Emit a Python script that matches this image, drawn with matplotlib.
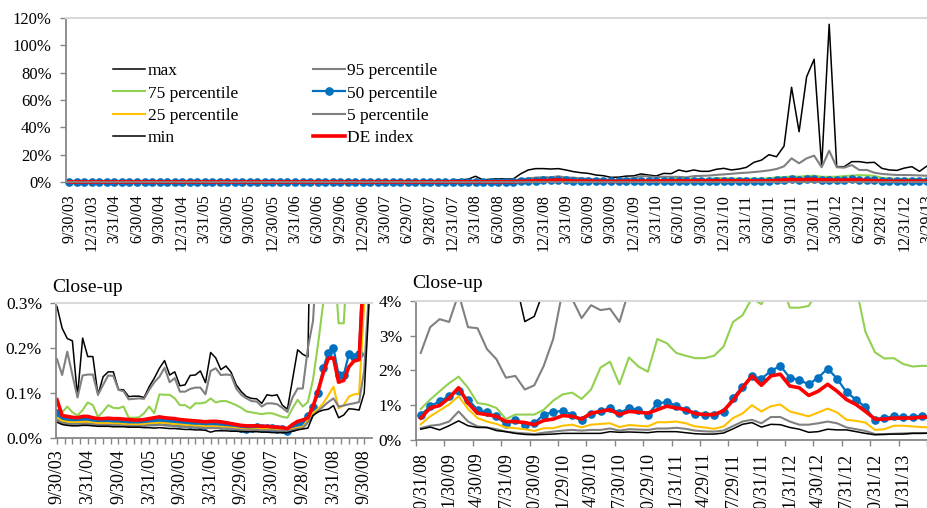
import matplotlib
matplotlib.use("Agg")
import matplotlib.pyplot as plt
import numpy as np
import pandas as pd

W, H = 927, 508
plt.rcParams["font.family"] = ["Liberation Serif", "DejaVu Serif"]

# monthly observations, business month ends from 9/30/03 (values in %)
start_date = "2003-09-30"
n_months = 116

# first 61 values: 9/30/03 .. 9/30/08, then 10/31/08 .. 4/30/13
max_ret = [
    0.292, 0.244, 0.221, 0.216, 0.092, 0.222, 0.181, 0.181, 0.096, 0.136,
    0.147, 0.147, 0.108, 0.107, 0.092, 0.093, 0.093, 0.09, 0.114, 0.133,
    0.155, 0.172, 0.14, 0.147, 0.116, 0.118, 0.139, 0.14, 0.149, 0.123,
    0.19, 0.178, 0.152, 0.16, 0.146, 0.118, 0.103, 0.092, 0.088, 0.087,
    0.077, 0.096, 0.094, 0.096, 0.073, 0.064, 0.13, 0.196, 0.186, 0.18,
    0.8, 1.2, 1.6, 2.0, 4.2, 1.5, 2.0, 2.4, 2.2, 2.2, 6.0,
    8.8, 9.8, 9.8, 9.5, 9.8, 8.8, 7.6, 6.8, 6.3, 5.1,
    4.6, 3.4, 3.55, 4.3, 4.5, 5.9, 5.1, 4.4, 6.3, 6.1,
    8.8, 7.6, 8.8, 7.8, 7.8, 9.3, 10.0, 8.8, 9.5, 10.7,
    14.4, 16.0, 20.0, 18.5, 26.3, 69.3, 36.8, 77.0, 89.8, 11.5,
    115.4, 11.2, 11.2, 14.9, 14.9, 14.1, 14.4, 10.0, 8.8, 8.5,
    10.2, 11.2, 7.8, 11.7, 12.0,
]
p95 = [
    0.175, 0.14, 0.192, 0.14, 0.09, 0.139, 0.141, 0.141, 0.096, 0.118,
    0.139, 0.138, 0.107, 0.104, 0.086, 0.087, 0.088, 0.087, 0.107, 0.124,
    0.136, 0.156, 0.124, 0.133, 0.103, 0.103, 0.109, 0.112, 0.112, 0.097,
    0.149, 0.155, 0.14, 0.141, 0.14, 0.11, 0.096, 0.088, 0.082, 0.081,
    0.07, 0.077, 0.077, 0.075, 0.067, 0.058, 0.09, 0.11, 0.11, 0.2,
    0.26, 0.45, 0.7, 0.9, 1.1, 0.9, 1.0, 1.1, 1.2, 1.3, 1.9,
    2.5, 3.24, 3.47, 3.39, 4.2, 3.24, 3.21, 2.61, 2.32, 1.79,
    1.84, 1.45, 1.57, 2.13, 2.9, 4.3, 4.05, 3.5, 3.87, 3.73,
    3.77, 3.39, 4.3, 4.5, 4.7, 5.2, 5.6, 6.0, 6.5, 6.8,
    7.3, 7.8, 8.5, 9.5, 11.5, 17.3, 13.7, 17.3, 19.3, 10.8,
    22.9, 10.8, 10.5, 12.4, 8.8, 8.8, 6.8, 5.9, 5.5, 5.1,
    5.1, 5.0, 4.8, 4.6, 4.8,
]
p75 = [
    0.081, 0.057, 0.07, 0.057, 0.05, 0.062, 0.079, 0.073, 0.047, 0.059,
    0.073, 0.067, 0.066, 0.07, 0.045, 0.045, 0.046, 0.055, 0.07, 0.055,
    0.097, 0.096, 0.096, 0.088, 0.073, 0.073, 0.066, 0.077, 0.077, 0.079,
    0.088, 0.079, 0.082, 0.082, 0.078, 0.073, 0.067, 0.059, 0.057, 0.055,
    0.053, 0.055, 0.055, 0.051, 0.047, 0.045, 0.066, 0.085, 0.07, 0.08,
    0.13, 0.21, 0.3, 0.38, 0.42, 0.255, 0.255, 0.45, 0.55, 0.6, 0.75,
    0.89, 1.16, 1.4, 1.63, 1.82, 1.5, 1.06, 1.02, 0.92, 0.6,
    0.73, 0.73, 0.73, 0.87, 1.13, 1.31, 1.36, 1.18, 1.45, 2.08,
    2.25, 1.6, 2.37, 2.11, 1.96, 2.9, 2.78, 2.5, 2.42, 2.35,
    2.35, 2.42, 2.68, 3.39, 3.58, 4.07, 3.9, 4.4, 4.6, 3.8,
    3.8, 3.85, 4.3, 4.7, 5.0, 4.9, 4.4, 3.1, 2.52, 2.34,
    2.35, 2.18, 2.11, 2.13, 2.12,
]
p50 = [
    0.055, 0.042, 0.04, 0.04, 0.039, 0.04, 0.04, 0.038, 0.037, 0.037,
    0.037, 0.036, 0.036, 0.035, 0.034, 0.034, 0.034, 0.035, 0.037, 0.038,
    0.04, 0.038, 0.037, 0.036, 0.034, 0.033, 0.032, 0.031, 0.03, 0.03,
    0.031, 0.031, 0.03, 0.029, 0.027, 0.025, 0.022, 0.02, 0.022, 0.024,
    0.022, 0.022, 0.022, 0.02, 0.019, 0.016, 0.025, 0.032, 0.035, 0.05,
    0.068, 0.1, 0.155, 0.19, 0.2, 0.14, 0.14, 0.186, 0.18, 0.186, 0.45,
    0.71, 0.97, 1.11, 1.26, 1.4, 1.16, 0.87, 0.79, 0.68, 0.45,
    0.56, 0.44, 0.48, 0.73, 0.8, 0.84, 0.73, 0.56, 0.75, 0.82,
    0.92, 0.77, 0.92, 0.87, 0.73, 1.05, 1.09, 0.99, 0.87, 0.76,
    0.73, 0.73, 0.79, 1.21, 1.53, 1.84, 1.76, 1.98, 2.13, 1.79,
    1.72, 1.6, 1.79, 2.05, 1.76, 1.37, 1.16, 0.94, 0.56, 0.63,
    0.68, 0.66, 0.66, 0.7, 0.68,
]
p25 = [
    0.045, 0.038, 0.036, 0.035, 0.035, 0.036, 0.036, 0.034, 0.033, 0.033,
    0.033, 0.032, 0.032, 0.031, 0.03, 0.03, 0.03, 0.031, 0.032, 0.033,
    0.034, 0.033, 0.032, 0.031, 0.03, 0.029, 0.028, 0.027, 0.027, 0.026,
    0.026, 0.026, 0.025, 0.024, 0.023, 0.022, 0.02, 0.019, 0.019, 0.02,
    0.02, 0.02, 0.019, 0.018, 0.017, 0.016, 0.02, 0.023, 0.025, 0.04,
    0.055, 0.065, 0.077, 0.095, 0.114, 0.066, 0.073, 0.092, 0.097, 0.098, 0.3,
    0.45, 0.68, 0.85, 1.02, 1.26, 0.89, 0.63, 0.53, 0.46, 0.36,
    0.34, 0.31, 0.26, 0.34, 0.34, 0.41, 0.44, 0.36, 0.44, 0.46,
    0.48, 0.37, 0.43, 0.41, 0.39, 0.51, 0.51, 0.53, 0.48, 0.39,
    0.36, 0.32, 0.39, 0.63, 0.76, 1.0, 0.82, 0.97, 1.02, 0.82,
    0.75, 0.68, 0.79, 0.9, 0.79, 0.58, 0.55, 0.5, 0.29, 0.31,
    0.41, 0.41, 0.39, 0.37, 0.36,
]
p5 = [
    0.04, 0.033, 0.031, 0.03, 0.03, 0.031, 0.031, 0.03, 0.029, 0.029,
    0.029, 0.028, 0.028, 0.027, 0.027, 0.026, 0.026, 0.027, 0.028, 0.028,
    0.029, 0.028, 0.027, 0.026, 0.025, 0.025, 0.024, 0.023, 0.023, 0.022,
    0.022, 0.022, 0.021, 0.021, 0.02, 0.019, 0.018, 0.017, 0.017, 0.018,
    0.017, 0.017, 0.017, 0.016, 0.016, 0.015, 0.018, 0.02, 0.022, 0.035,
    0.05, 0.06, 0.07, 0.08, 0.088, 0.07, 0.072, 0.075, 0.077, 0.08, 0.15,
    0.34, 0.41, 0.44, 0.53, 0.82, 0.53, 0.39, 0.36, 0.31, 0.24,
    0.21, 0.19, 0.17, 0.21, 0.24, 0.27, 0.29, 0.27, 0.29, 0.29,
    0.33, 0.27, 0.31, 0.3, 0.29, 0.33, 0.33, 0.35, 0.32, 0.27,
    0.25, 0.24, 0.27, 0.4, 0.53, 0.58, 0.48, 0.66, 0.66, 0.53,
    0.44, 0.44, 0.48, 0.53, 0.48, 0.36, 0.31, 0.26, 0.17, 0.17,
    0.18, 0.19, 0.2, 0.2, 0.2,
]
min_ret = [
    0.035, 0.03, 0.028, 0.027, 0.027, 0.028, 0.028, 0.027, 0.026, 0.026,
    0.026, 0.025, 0.025, 0.025, 0.024, 0.024, 0.024, 0.023, 0.023, 0.022,
    0.023, 0.022, 0.021, 0.021, 0.02, 0.019, 0.019, 0.018, 0.018, 0.017,
    0.013, 0.016, 0.016, 0.016, 0.015, 0.015, 0.014, 0.014, 0.014, 0.014,
    0.013, 0.013, 0.012, 0.012, 0.012, 0.012, 0.015, 0.018, 0.02, 0.022,
    0.05, 0.058, 0.062, 0.064, 0.072, 0.045, 0.051, 0.065, 0.064, 0.062, 0.1,
    0.31, 0.37, 0.29, 0.41, 0.55, 0.41, 0.36, 0.36, 0.27, 0.24,
    0.19, 0.16, 0.15, 0.16, 0.17, 0.19, 0.19, 0.19, 0.19, 0.19,
    0.24, 0.22, 0.23, 0.22, 0.21, 0.24, 0.24, 0.24, 0.21, 0.18,
    0.17, 0.17, 0.2, 0.32, 0.45, 0.5, 0.37, 0.45, 0.44, 0.36,
    0.31, 0.22, 0.24, 0.31, 0.29, 0.29, 0.24, 0.19, 0.15, 0.16,
    0.17, 0.17, 0.19, 0.19, 0.2,
]
de_index = [
    0.085, 0.05, 0.048, 0.046, 0.045, 0.048, 0.048, 0.045, 0.043, 0.043,
    0.044, 0.043, 0.043, 0.042, 0.041, 0.04, 0.04, 0.041, 0.043, 0.045,
    0.047, 0.045, 0.044, 0.043, 0.041, 0.04, 0.039, 0.038, 0.037, 0.036,
    0.037, 0.037, 0.036, 0.034, 0.032, 0.03, 0.028, 0.027, 0.027, 0.027,
    0.026, 0.026, 0.025, 0.024, 0.023, 0.021, 0.03, 0.037, 0.04, 0.045,
    0.07, 0.105, 0.145, 0.177, 0.178, 0.124, 0.128, 0.158, 0.171, 0.174, 0.4,
    0.63, 0.92, 0.99, 1.21, 1.5, 1.06, 0.77, 0.73, 0.68, 0.53,
    0.53, 0.5, 0.44, 0.56, 0.6, 0.7, 0.68, 0.6, 0.77, 0.82,
    0.87, 0.73, 0.82, 0.8, 0.77, 0.87, 0.97, 0.92, 0.87, 0.76,
    0.73, 0.73, 0.84, 1.14, 1.5, 1.84, 1.57, 1.84, 1.89, 1.55,
    1.5, 1.28, 1.4, 1.6, 1.4, 1.16, 1.02, 0.82, 0.6, 0.6,
    0.63, 0.63, 0.63, 0.66, 0.65,
]

split = 61  # first month of the right close-up (10/31/08)

series = [
    ("max", max_ret, dict(color="black", lw=1.1)),
    ("95 percentile", p95, dict(color="#808080", lw=1.5)),
    ("75 percentile", p75, dict(color="#92D050", lw=1.5)),
    ("50 percentile", p50, dict(color="#0070C0", lw=1.6, marker="o", ms=5.2)),
    ("25 percentile", p25, dict(color="#FFC000", lw=1.5)),
    ("5 percentile", p5, dict(color="#808080", lw=1.5)),
    ("min", min_ret, dict(color="black", lw=1.1)),
    ("DE index", de_index, dict(color="#FF0000", lw=2.6)),
]

dates = [pd.Timestamp(start_date) + pd.offsets.BMonthEnd(k) for k in range(n_months)]
labels = [f"{d.month}/{d.day}/{d:%y}" for d in dates]
idx = np.arange(n_months)


def px_axes(fig, left, top, right, bottom):
    return fig.add_axes([left / W, 1 - bottom / H, (right - left) / W, (bottom - top) / H])


def style_axes(ax, ysize=12, xsize=11.5):
    ax.spines["right"].set_visible(False)
    ax.spines["top"].set_color("#D9D9D9")
    ax.spines["top"].set_linewidth(1.5)
    for s in ("left", "bottom"):
        ax.spines[s].set_color("#868686")
        ax.spines[s].set_linewidth(1.3)
    ax.tick_params(axis="y", which="both", direction="out", length=4, width=1,
                   color="#868686", labelsize=ysize, pad=6)
    ax.tick_params(axis="x", which="both", labelsize=xsize, labelrotation=90)


fig = plt.figure(figsize=(W / 100, H / 100), dpi=100)

# ---- full period ----
ax = px_axes(fig, 65.5, 18, 927, 182)
handles = {}
for name, vals, kw in series:
    (ln,) = ax.plot(idx, vals, label=name, clip_on=False, **kw)
    handles[name] = ln
ax.set_xlim(-0.5, (927 - 65.5) / 7.57 - 0.5)
ax.set_ylim(0, 120)
ax.set_yticks(np.arange(0, 121, 20))
ax.set_yticklabels([f"{v}%" for v in range(0, 121, 20)])
ax.set_xticks(idx[::3])
ax.set_xticklabels(labels[::3])
style_axes(ax)
ax.tick_params(axis="x", length=0, pad=9)
order = ["max", "75 percentile", "25 percentile", "min",
         "95 percentile", "50 percentile", "5 percentile", "DE index"]
ax.legend([handles[k] for k in order], order, ncol=2, frameon=False,
          fontsize=12.5, loc="upper left",
          bbox_to_anchor=(113 / W, 1 - 63 / H), bbox_transform=fig.transFigure,
          borderpad=0, borderaxespad=0, handlelength=1.85, handletextpad=0.15,
          labelspacing=0.36, columnspacing=4.3)

# ---- close-up up to 2008 ----
ax2 = px_axes(fig, 56, 303, 372, 438)
for name, vals, kw in series:
    ax2.plot(idx[:split + 2], vals[:split + 2], **kw)
ax2.set_xlim(-0.2, (372 - 57) / 5.12)
ax2.set_ylim(0, 0.3)
ax2.set_yticks([0, 0.1, 0.2, 0.3])
ax2.set_yticklabels(["0.0%", "0.1%", "0.2%", "0.3%"])
ax2.set_xticks(idx[:split:6])
ax2.set_xticklabels(labels[:split:6])
ax2.set_xticks(np.arange(0, 61.5, 1.5), minor=True)
style_axes(ax2, ysize=12.5, xsize=13)
ax2.tick_params(axis="x", which="both", direction="out", length=4, width=1,
                color="#868686", pad=4)
fig.text(52 / W, 1 - 287 / H, "Close-up", fontsize=14, va="center", ha="left")

# ---- close-up from 10/31/08 ----
ax3 = px_axes(fig, 416, 300.7, 927, 440)
jdx = idx[split:] - split
for name, vals, kw in series:
    ax3.plot(jdx, vals[split:], **kw)
ax3.set_xlim(-0.5, (927 - 416) / 9.47 - 0.5)
ax3.set_ylim(0, 4)
ax3.set_yticks(range(5))
ax3.set_yticklabels([f"{v}%" for v in range(5)])
ax3.set_xticks(jdx[:52:3])
ax3.set_xticklabels(labels[split:split + 52:3])
ax3.set_xticks(np.arange(-0.5, 54, 3), minor=True)
style_axes(ax3, ysize=12.5, xsize=13)
ax3.tick_params(axis="x", which="major", length=0, pad=9)
ax3.tick_params(axis="x", which="minor", direction="out", length=4, width=1,
                color="#868686")
fig.text(412 / W, 1 - 284 / H, "Close-up", fontsize=14, va="center", ha="left")

fig.savefig("out.png", dpi=100)
